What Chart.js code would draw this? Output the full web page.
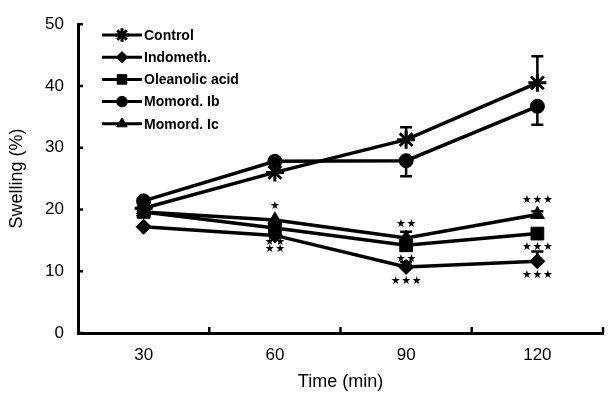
<!DOCTYPE html>
<html>
<head>
<meta charset="utf-8">
<script src="https://cdn.jsdelivr.net/npm/chart.js@4"></script>
<style>
  html, body { margin: 0; padding: 0; background: #fff; }
  #wrap { width: 615px; height: 401px; }
</style>
</head>
<body>
<div id="wrap"><canvas id="swellChart" width="615" height="401"></canvas></div>
<script>
// data
const timeLabels = ["30", "60", "90", "120"];
const seriesNames = ["Control", "Indometh.", "Oleanolic acid", "Momord. Ib", "Momord. Ic"];

const control   = [20.2, 26.0, 31.3, 40.5];
const indometh  = [17.2, 15.8, 10.7, 11.6];
const oleanolic = [19.6, 17.0, 14.2, 16.1];
const momordIb  = [21.4, 27.8, 27.9, 36.7];
const momordIc  = [19.6, 18.3, 15.4, 19.2];

// error bar sizes (only one side is visible in the figure)
const controlErr   = [0, 0, 2.0, 4.3];
const indomethErr  = [0, 0, 0.8, 1.6];
const oleanolicErr = [0, 0, 0, 0];
const momordIbErr  = [0, 0, 2.5, 3.0];
const momordIcErr  = [0, 0, 1.0, 0.5];

// significance marks
const indomethSig  = ["", "**", "***", "***"];
const oleanolicSig = ["", "**", "**", "***"];
const momordIcSig  = ["", "*", "**", "***"];

const yTicks = [0, 10, 20, 30, 40, 50];

const FONT = "'Liberation Sans', Arial, sans-serif";

const radii = { star: 9, rectRot: 7.5, rect: 9, circle: 7, triangle: 8 };

function ds(label, data, style, err, errDir, sig, sigDir) {
  return {
    label: label,
    data: data,
    borderColor: "#000",
    backgroundColor: "#000",
    borderWidth: 3.5,
    pointStyle: style,
    pointRadius: radii[style],
    pointBorderWidth: style === "star" ? 3 : 1,
    pointBackgroundColor: "#000",
    pointBorderColor: "#000",
    tension: 0,
    errors: err,
    errDir: errDir,
    sig: sig,
    sigDir: sigDir
  };
}

// error bars + significance stars, placed through the scales
const marksPlugin = {
  id: "marks",
  afterDatasetsDraw(chart) {
    const ctx = chart.ctx;
    const y = chart.scales.y;
    ctx.save();
    ctx.strokeStyle = "#000";
    ctx.fillStyle = "#000";
    chart.data.datasets.forEach((d, i) => {
      const meta = chart.getDatasetMeta(i);
      meta.data.forEach((pt, j) => {
        const e = d.errors ? d.errors[j] : 0;
        if (e > 0) {
          const yEnd = y.getPixelForValue(d.data[j] + d.errDir * e);
          ctx.lineWidth = 2.5;
          ctx.beginPath();
          ctx.moveTo(pt.x, pt.y);
          ctx.lineTo(pt.x, yEnd);
          ctx.moveTo(pt.x - 6, yEnd);
          ctx.lineTo(pt.x + 6, yEnd);
          ctx.stroke();
        }
        const s = d.sig ? d.sig[j] : "";
        if (s) {
          const n = s.length;
          const sy = pt.y + d.sigDir * 14;
          ctx.font = "11px 'DejaVu Sans'";
          ctx.textAlign = "center";
          ctx.textBaseline = "middle";
          for (let k = 0; k < n; k++) {
            ctx.fillText("\u2605", pt.x + (k - (n - 1) / 2) * 10.5, sy);
          }
        }
      });
    });
    ctx.restore();
  }
};

// inward tick marks and the in-plot legend
const axisPlugin = {
  id: "axisExtras",
  afterDraw(chart) {
    const ctx = chart.ctx;
    const x = chart.scales.x;
    const y = chart.scales.y;
    const area = chart.chartArea;
    ctx.save();
    ctx.strokeStyle = "#000";
    ctx.lineWidth = 2.5;
    ctx.beginPath();
    yTicks.forEach(v => {
      const py = y.getPixelForValue(v);
      ctx.moveTo(area.left, py);
      ctx.lineTo(area.left + 5, py);
    });
    for (let i = 0; i < timeLabels.length; i++) {
      const px = i < timeLabels.length - 1
        ? (x.getPixelForValue(i) + x.getPixelForValue(i + 1)) / 2
        : area.right;
      ctx.moveTo(px, area.bottom);
      ctx.lineTo(px, area.bottom - 6);
    }
    ctx.stroke();

    // legend
    const lx0 = area.left + 24, lx1 = area.left + 64, ly0 = 35, step = 22.2;
    chart.data.datasets.forEach((d, i) => {
      const ly = ly0 + i * step;
      ctx.lineWidth = 3;
      ctx.strokeStyle = "#000";
      ctx.fillStyle = "#000";
      ctx.beginPath();
      ctx.moveTo(lx0, ly);
      ctx.lineTo(lx1, ly);
      ctx.stroke();
      ctx.lineWidth = d.pointBorderWidth;
      Chart.helpers.drawPoint(ctx, {
        pointStyle: d.pointStyle,
        radius: d.pointRadius * 0.75,
        rotation: 0,
        borderWidth: d.pointBorderWidth
      }, (lx0 + lx1) / 2, ly);
      ctx.font = "bold 14px " + FONT;
      ctx.textAlign = "left";
      ctx.textBaseline = "middle";
      ctx.fillText(d.label, lx1 + 2, ly + 1);
    });
    ctx.restore();
  }
};

const chart = new Chart(document.getElementById("swellChart"), {
  type: "line",
  data: {
    labels: timeLabels,
    datasets: [
      ds(seriesNames[0], control, "star", controlErr, 1, null, 0),
      ds(seriesNames[1], indometh, "rectRot", indomethErr, 1, indomethSig, 1),
      ds(seriesNames[2], oleanolic, "rect", oleanolicErr, 1, oleanolicSig, 1),
      ds(seriesNames[3], momordIb, "circle", momordIbErr, -1, null, 0),
      ds(seriesNames[4], momordIc, "triangle", momordIcErr, 1, momordIcSig, -1)
    ]
  },
  options: {
    responsive: false,
    animation: false,
    layout: { padding: { left: 0, right: 2, top: 20, bottom: 0 } },
    plugins: {
      legend: { display: false },
      tooltip: { enabled: false }
    },
    scales: {
      x: {
        type: "category",
        offset: true,
        grid: { display: true, drawOnChartArea: false, drawTicks: false, offset: true },
        border: { display: true, color: "#000", width: 3 },
        ticks: { color: "#000", font: { family: FONT, size: 17 }, padding: 12, maxRotation: 0 },
        title: { display: true, text: "Time (min)", color: "#000",
                 font: { family: FONT, size: 18 }, padding: { top: 0, bottom: 8 } },
        afterFit: s => { s.height = 68; }
      },
      y: {
        min: 0, max: 50,
        afterBuildTicks: s => { s.ticks = yTicks.map(v => ({ value: v })); },
        grid: { display: true, drawOnChartArea: false, drawTicks: false },
        border: { display: true, color: "#000", width: 3 },
        ticks: { color: "#000", font: { family: FONT, size: 17 }, padding: 14 },
        title: { display: true, text: "Swelling (%)", color: "#000",
                 font: { family: FONT, size: 18 }, padding: { top: 6, bottom: 0 } },
        afterFit: s => { s.width = 78; }
      }
    }
  },
  plugins: [marksPlugin, axisPlugin]
});
</script>
</body>
</html>
